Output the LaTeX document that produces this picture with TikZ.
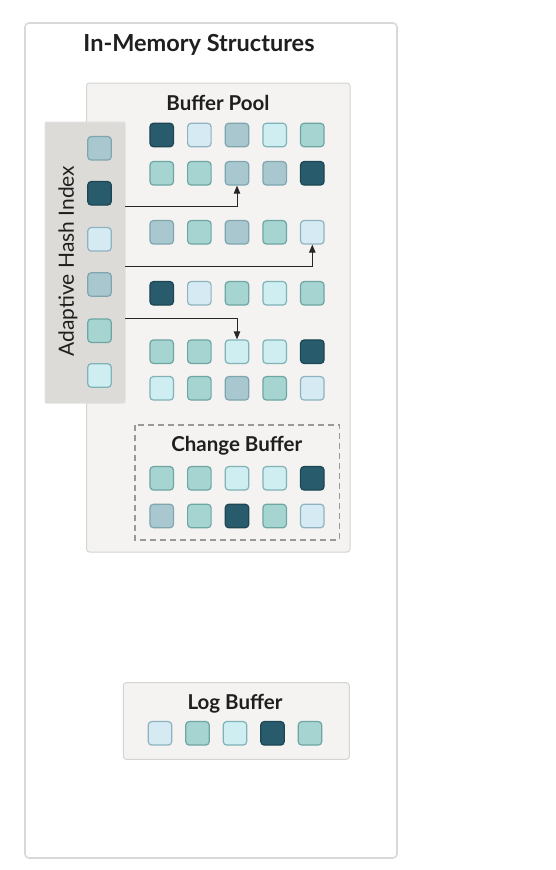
\documentclass[tikz,border=0pt]{standalone}
\usepackage{fontspec}
\setmainfont{Lato}
\usetikzlibrary{arrows.meta}
\definecolor{Dfill}{HTML}{285B6B}\definecolor{Ddraw}{HTML}{1D4654}
\definecolor{Mfill}{HTML}{A9C7CF}\definecolor{Mdraw}{HTML}{7FA6AF}
\definecolor{Tfill}{HTML}{A5D4D1}\definecolor{Tdraw}{HTML}{6EA6A4}
\definecolor{Lfill}{HTML}{D6EAF4}\definecolor{Ldraw}{HTML}{8FB3BE}
\definecolor{Cfill}{HTML}{CFEEF2}\definecolor{Cdraw}{HTML}{7FB3B8}
\definecolor{panel}{HTML}{F4F3F1}
\definecolor{panelline}{HTML}{D4D4D2}
\definecolor{ahifill}{HTML}{DCDBD8}
\begin{document}
\begin{tikzpicture}[x=1pt,y=-1pt,
  sq/.style={minimum size=23.5pt,inner sep=0pt,rounded corners=3.5pt,line width=1.2pt},
  sqD/.style={sq,fill=Dfill,draw=Ddraw},
  sqM/.style={sq,fill=Mfill,draw=Mdraw},
  sqT/.style={sq,fill=Tfill,draw=Tdraw},
  sqL/.style={sq,fill=Lfill,draw=Ldraw},
  sqC/.style={sq,fill=Cfill,draw=Cdraw},
  panelbox/.style={rounded corners=3pt,fill=panel,draw=panelline,line width=1pt},
  title/.style={font=\fontsize{23.5}{26}\selectfont\bfseries,text=black!88},
  subtitle/.style={font=\fontsize{20.5}{23}\selectfont\bfseries,text=black!88},
  arr/.style={draw=black!85,line width=0.9pt,-{Triangle[length=8pt,width=6.5pt]}}
]
\useasboundingbox (0,0) rectangle (556,870);
% outer box
\draw[rounded corners=4pt,fill=white,draw=black!15,line width=1.6pt] (25,23) rectangle (397,858);
\node[title] (tmain) at (199,45) {In-Memory Structures};
% buffer pool
\draw[panelbox] (86.5,83) rectangle (350,552);
\node[subtitle] (tbp) at (218,103) {Buffer Pool};
% rows of buffer pool
\def\rowy{{135,173.3,232.3,293.3,351.7,388.3}}
\foreach \r/\cols in {1/{D,L,M,C,T},2/{T,T,M,M,D},3/{M,T,M,T,L},4/{D,L,T,C,T},5/{T,T,C,C,D},6/{C,T,M,T,L}}{
  \foreach \c [count=\i] in \cols {
    \pgfmathsetmacro{\yy}{\rowy[\r-1]}
    \node[sq\c] (b\r\i) at ({161.7+(\i-1)*37.65},\yy) {};
  }
}
% adaptive hash index
\draw[rounded corners=1pt,fill=ahifill,draw=black!12,line width=1pt] (45,122) rectangle (125,403);
\node[rotate=90,font=\fontsize{21}{24}\selectfont,text=black!88] (tahi) at (68,261) {Adaptive Hash Index};
\foreach \c/\y [count=\i] in {M/148.3,D/193.3,L/239.3,M/284.5,T/330.7,C/375.5}{
  \node[sq\c] (h\i) at (99.5,\y) {};
}
% arrows
\coordinate (s1) at (125,206.7);
\coordinate (s2) at (125,266.7);
\coordinate (s3) at (125,318.3);
\draw[arr] (s1) -| (b23.south);
\draw[arr] (s2) -| (b35.south);
\draw[arr] (s3) -| (b53.north);
% change buffer
\draw[dashed,dash pattern=on 6pt off 4pt,draw=black!40,line width=1.1pt] (135,425) rectangle (339.3,540);
\node[subtitle] (tcb) at (236.7,446) {Change Buffer};
\foreach \c [count=\i] in {T,T,C,C,D}{
  \node[sq\c] (c1\i) at ({161.7+(\i-1)*37.65},478.3) {};
}
\foreach \c [count=\i] in {M,T,D,T,L}{
  \node[sq\c] (c2\i) at ({161.7+(\i-1)*37.65},516) {};
}
% log buffer
\draw[panelbox] (123.3,682.7) rectangle (349.3,759.3);
\node[subtitle] (tlb) at (235,703.3) {Log Buffer};
\foreach \c [count=\i] in {L,T,C,D,T}{
  \node[sq\c] (l\i) at ({160+(\i-1)*37.5},733.3) {};
}
\end{tikzpicture}
\end{document}
